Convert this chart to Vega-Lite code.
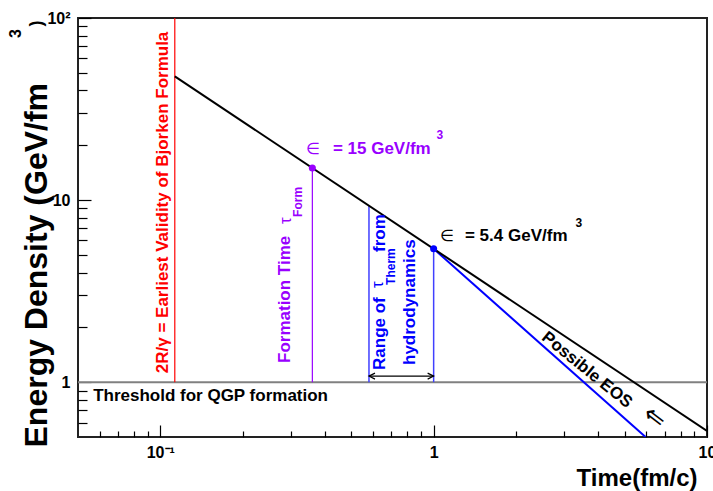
{
  "$schema": "https://vega.github.io/schema/vega-lite/v6.json",
  "width": 629,
  "height": 419,
  "autosize": {"type": "none"},
  "padding": {"left": 78, "top": 18, "right": 6, "bottom": 54},
  "background": "white",
  "config": {"font": "Liberation Sans", "view": {"stroke": "#222", "strokeWidth": 2}},
  "datasets": {
    "threshold": [{"e": 1}],
    "bjorken": [{"t": 0.113, "e": 47.79}, {"t": 10, "e": 0.54}],
    "eos": [{"t": 1, "e": 5.4}, {"t": 5.96, "e": 0.5}],
    "earliest": [{"t": 0.113, "e": 1, "e2": 100}],
    "formation": [{"t": 0.36, "e": 1, "e2": 15}],
    "therm_range": [{"t": 0.58, "e": 1, "e2": 9.31}, {"t": 1, "e": 1, "e2": 5.4}],
    "therm_span": [{"t": 0.58, "t2": 1, "e": 1.08}],
    "therm_span_lo": [{"t": 0.58, "e": 1.08}],
    "therm_span_hi": [{"t": 1, "e": 1.08}],
    "eps_form": [{"t": 0.36, "e": 15}],
    "eps_therm": [{"t": 1, "e": 5.4}],
    "note_threshold": [{"t": 0.0568, "e": 0.84, "label": "Threshold for QGP formation"}],
    "note_earliest": [{"t": 0.1023, "e": 1.12, "label": "2R/γ = Earliest Validity of Bjorken Formula"}],
    "note_formation": [{"t": 0.2857, "e": 1.275, "label": "Formation Time"}],
    "note_formation_tau": [{"t": 0.2884, "e": 7.39, "label": "τ"}],
    "note_formation_sub": [{"t": 0.3189, "e": 8.08, "label": "Form"}],
    "note_therm": [
      {"t": 0.6363, "e": 1.167, "label": "Range of"},
      {"t": 0.6363, "e": 5.19, "label": "from"},
      {"t": 0.819, "e": 1.243, "label": "hydrodynamics"}
    ],
    "note_therm_tau": [{"t": 0.6256, "e": 3.29, "label": "τ"}],
    "note_therm_sub": [{"t": 0.698, "e": 3.42, "label": "Therm"}],
    "eps_form_symbol": [{"t": 0.3619, "e": 19.08, "label": "∈"}],
    "eps_form_value": [{"t": 0.428, "e": 19.08, "label": "= 15 GeV/fm"}],
    "eps_form_power": [{"t": 1.054, "e": 22.78, "label": "3"}],
    "eps_therm_symbol": [{"t": 1.119, "e": 6.35, "label": "∈"}],
    "eps_therm_value": [{"t": 1.302, "e": 6.35, "label": "= 5.4 GeV/fm"}],
    "eps_therm_power": [{"t": 3.401, "e": 7.48, "label": "3"}],
    "note_eos": [{"t": 3.637, "e": 1.167, "label": "Possible EOS"}],
    "note_arrow": [{"t": 6.45, "e": 0.644, "label": "⇐"}]
  },
  "layer": [
    {
      "data": {"name": "threshold"},
      "mark": {"type": "rule", "color": "#808080", "strokeWidth": 2},
      "encoding": {
        "y": {
          "field": "e", "type": "quantitative",
          "scale": {"type": "log", "domain": [0.5, 100]},
          "axis": {
            "orient": "left", "offset": -13,
            "values": [1, 10, 100],
            "labelExpr": "datum.value == 100 ? '10²' : datum.value == 10 ? '10' : '1'",
            "labelFontSize": 16, "labelFontWeight": "bold", "labelColor": "black",
            "labelPadding": 8, "labelFlush": false, "labelOverlap": false,
            "tickSize": 13, "tickColor": "black", "tickWidth": 1.2,
            "domain": false, "grid": false,
            "title": "Energy Density (GeV/fm",
            "titleFontSize": 32, "titleFontWeight": "bold", "titleColor": "black",
            "titleAngle": 270, "titleAlign": "left", "titleBaseline": "alphabetic",
            "titleX": -45, "titleY": 429
          }
        }
      }
    },
    {
      "data": {"name": "earliest"},
      "mark": {"type": "rule", "color": "#ff0000", "strokeWidth": 1.2},
      "encoding": {
        "x": {"field": "t", "type": "quantitative", "scale": {"type": "log", "domain": [0.05, 10]}, "axis": null},
        "y": {"field": "e", "type": "quantitative", "scale": {"type": "log", "domain": [0.5, 100]}, "axis": null},
        "y2": {"field": "e2"}
      }
    },
    {
      "data": {"name": "formation"},
      "mark": {"type": "rule", "color": "#9900ff", "strokeWidth": 1.2},
      "encoding": {
        "x": {"field": "t", "type": "quantitative", "scale": {"type": "log", "domain": [0.05, 10]}, "axis": null},
        "y": {"field": "e", "type": "quantitative", "scale": {"type": "log", "domain": [0.5, 100]}, "axis": null},
        "y2": {"field": "e2"}
      }
    },
    {
      "data": {"name": "therm_range"},
      "mark": {"type": "rule", "color": "#4040ff", "strokeWidth": 1.5},
      "encoding": {
        "x": {"field": "t", "type": "quantitative", "scale": {"type": "log", "domain": [0.05, 10]}, "axis": null},
        "y": {"field": "e", "type": "quantitative", "scale": {"type": "log", "domain": [0.5, 100]}, "axis": null},
        "y2": {"field": "e2"}
      }
    },
    {
      "data": {"name": "therm_span"},
      "mark": {"type": "rule", "color": "black", "strokeWidth": 1.2},
      "encoding": {
        "x": {"field": "t", "type": "quantitative", "scale": {"type": "log", "domain": [0.05, 10]}, "axis": null},
        "x2": {"field": "t2"},
        "y": {"field": "e", "type": "quantitative", "scale": {"type": "log", "domain": [0.5, 100]}, "axis": null}
      }
    },
    {
      "data": {"name": "therm_span_lo"},
      "mark": {"type": "point", "shape": "M2,-1L0,0L2,1", "filled": false, "color": "black", "size": 36, "strokeWidth": 1.2, "opacity": 1},
      "encoding": {
        "x": {"field": "t", "type": "quantitative", "scale": {"type": "log", "domain": [0.05, 10]}, "axis": null},
        "y": {"field": "e", "type": "quantitative", "scale": {"type": "log", "domain": [0.5, 100]}, "axis": null}
      }
    },
    {
      "data": {"name": "therm_span_hi"},
      "mark": {"type": "point", "shape": "M-2,-1L0,0L-2,1", "filled": false, "color": "black", "size": 36, "strokeWidth": 1.2, "opacity": 1},
      "encoding": {
        "x": {"field": "t", "type": "quantitative", "scale": {"type": "log", "domain": [0.05, 10]}, "axis": null},
        "y": {"field": "e", "type": "quantitative", "scale": {"type": "log", "domain": [0.5, 100]}, "axis": null}
      }
    },
    {
      "data": {"name": "eos"},
      "mark": {"type": "line", "color": "#0000ff", "strokeWidth": 2, "clip": true},
      "encoding": {
        "x": {
          "field": "t", "type": "quantitative", "scale": {"type": "log", "domain": [0.05, 10]},
          "axis": {
            "orient": "bottom", "offset": -6,
            "values": [0.06, 0.07, 0.08, 0.09, 0.2, 0.3, 0.4, 0.5, 0.6, 0.7, 0.8, 0.9, 2, 3, 4, 5, 6, 7, 8, 9],
            "labels": false, "tickSize": 6, "tickColor": "black", "tickWidth": 1.2,
            "domain": false, "grid": false, "title": null
          }
        },
        "y": {
          "field": "e", "type": "quantitative", "scale": {"type": "log", "domain": [0.5, 100]},
          "axis": {
            "orient": "left", "offset": -9,
            "values": [0.6, 0.7, 0.8, 0.9, 2, 3, 4, 5, 6, 7, 8, 9, 20, 30, 40, 50, 60, 70, 80, 90],
            "labels": false, "tickSize": 9, "tickColor": "black", "tickWidth": 1.2,
            "domain": false, "grid": false, "title": null
          }
        }
      }
    },
    {
      "data": {"name": "bjorken"},
      "mark": {"type": "line", "color": "black", "strokeWidth": 2, "clip": true},
      "encoding": {
        "x": {
          "field": "t", "type": "quantitative", "scale": {"type": "log", "domain": [0.05, 10]},
          "axis": {
            "orient": "bottom", "offset": -12,
            "values": [0.1, 1, 10],
            "labelExpr": "datum.value == 0.1 ? '10⁻¹' : datum.value == 1 ? '1' : '10'",
            "labelFontSize": 16, "labelFontWeight": "bold", "labelColor": "black",
            "labelPadding": 7, "labelFlush": false, "labelOverlap": false,
            "tickSize": 12, "tickColor": "black", "tickWidth": 1.2,
            "domain": false, "grid": false,
            "title": "Time(fm/c)",
            "titleFontSize": 24, "titleFontWeight": "bold", "titleColor": "black",
            "titleAlign": "right", "titleBaseline": "alphabetic",
            "titleX": 619, "titleY": 60
          }
        },
        "y": {"field": "e", "type": "quantitative", "scale": {"type": "log", "domain": [0.5, 100]}, "axis": null}
      }
    },
    {
      "data": {"name": "note_threshold"},
      "mark": {"type": "text", "align": "left", "baseline": "middle", "fontSize": 17, "fontWeight": "bold", "color": "black"},
      "encoding": {
        "x": {"field": "t", "type": "quantitative", "scale": {"type": "log", "domain": [0.05, 10]}, "axis": null},
        "y": {"field": "e", "type": "quantitative", "scale": {"type": "log", "domain": [0.5, 100]}, "axis": null},
        "text": {"field": "label"}
      }
    },
    {
      "data": {"name": "note_earliest"},
      "mark": {"type": "text", "angle": 270, "align": "left", "baseline": "middle", "fontSize": 17, "fontWeight": "bold", "color": "#ff0000"},
      "encoding": {
        "x": {"field": "t", "type": "quantitative", "scale": {"type": "log", "domain": [0.05, 10]}, "axis": null},
        "y": {"field": "e", "type": "quantitative", "scale": {"type": "log", "domain": [0.5, 100]}, "axis": null},
        "text": {"field": "label"}
      }
    },
    {
      "data": {"name": "note_formation"},
      "mark": {"type": "text", "angle": 270, "align": "left", "baseline": "middle", "fontSize": 17, "fontWeight": "bold", "color": "#9900ff"},
      "encoding": {
        "x": {"field": "t", "type": "quantitative", "scale": {"type": "log", "domain": [0.05, 10]}, "axis": null},
        "y": {"field": "e", "type": "quantitative", "scale": {"type": "log", "domain": [0.5, 100]}, "axis": null},
        "text": {"field": "label"}
      }
    },
    {
      "data": {"name": "note_formation_tau"},
      "mark": {"type": "text", "angle": 270, "align": "left", "baseline": "middle", "fontSize": 17, "color": "#9900ff"},
      "encoding": {
        "x": {"field": "t", "type": "quantitative", "scale": {"type": "log", "domain": [0.05, 10]}, "axis": null},
        "y": {"field": "e", "type": "quantitative", "scale": {"type": "log", "domain": [0.5, 100]}, "axis": null},
        "text": {"field": "label"}
      }
    },
    {
      "data": {"name": "note_formation_sub"},
      "mark": {"type": "text", "angle": 270, "align": "left", "baseline": "middle", "fontSize": 12, "fontWeight": "bold", "color": "#9900ff"},
      "encoding": {
        "x": {"field": "t", "type": "quantitative", "scale": {"type": "log", "domain": [0.05, 10]}, "axis": null},
        "y": {"field": "e", "type": "quantitative", "scale": {"type": "log", "domain": [0.5, 100]}, "axis": null},
        "text": {"field": "label"}
      }
    },
    {
      "data": {"name": "note_therm"},
      "mark": {"type": "text", "angle": 270, "align": "left", "baseline": "middle", "fontSize": 17, "fontWeight": "bold", "color": "#0000ff"},
      "encoding": {
        "x": {"field": "t", "type": "quantitative", "scale": {"type": "log", "domain": [0.05, 10]}, "axis": null},
        "y": {"field": "e", "type": "quantitative", "scale": {"type": "log", "domain": [0.5, 100]}, "axis": null},
        "text": {"field": "label"}
      }
    },
    {
      "data": {"name": "note_therm_tau"},
      "mark": {"type": "text", "angle": 270, "align": "left", "baseline": "middle", "fontSize": 17, "color": "#0000ff"},
      "encoding": {
        "x": {"field": "t", "type": "quantitative", "scale": {"type": "log", "domain": [0.05, 10]}, "axis": null},
        "y": {"field": "e", "type": "quantitative", "scale": {"type": "log", "domain": [0.5, 100]}, "axis": null},
        "text": {"field": "label"}
      }
    },
    {
      "data": {"name": "note_therm_sub"},
      "mark": {"type": "text", "angle": 270, "align": "left", "baseline": "middle", "fontSize": 12, "fontWeight": "bold", "color": "#0000ff"},
      "encoding": {
        "x": {"field": "t", "type": "quantitative", "scale": {"type": "log", "domain": [0.05, 10]}, "axis": null},
        "y": {"field": "e", "type": "quantitative", "scale": {"type": "log", "domain": [0.5, 100]}, "axis": null},
        "text": {"field": "label"}
      }
    },
    {
      "data": {"name": "eps_form_symbol"},
      "mark": {"type": "text", "align": "center", "baseline": "middle", "fontSize": 16, "color": "#9900ff"},
      "encoding": {
        "x": {"field": "t", "type": "quantitative", "scale": {"type": "log", "domain": [0.05, 10]}, "axis": null},
        "y": {"field": "e", "type": "quantitative", "scale": {"type": "log", "domain": [0.5, 100]}, "axis": null},
        "text": {"field": "label"}
      }
    },
    {
      "data": {"name": "eps_form_value"},
      "mark": {"type": "text", "align": "left", "baseline": "middle", "fontSize": 17, "fontWeight": "bold", "color": "#9900ff"},
      "encoding": {
        "x": {"field": "t", "type": "quantitative", "scale": {"type": "log", "domain": [0.05, 10]}, "axis": null},
        "y": {"field": "e", "type": "quantitative", "scale": {"type": "log", "domain": [0.5, 100]}, "axis": null},
        "text": {"field": "label"}
      }
    },
    {
      "data": {"name": "eps_form_power"},
      "mark": {"type": "text", "align": "center", "baseline": "middle", "fontSize": 12, "fontWeight": "bold", "color": "#9900ff"},
      "encoding": {
        "x": {"field": "t", "type": "quantitative", "scale": {"type": "log", "domain": [0.05, 10]}, "axis": null},
        "y": {"field": "e", "type": "quantitative", "scale": {"type": "log", "domain": [0.5, 100]}, "axis": null},
        "text": {"field": "label"}
      }
    },
    {
      "data": {"name": "eps_therm_symbol"},
      "mark": {"type": "text", "align": "center", "baseline": "middle", "fontSize": 16, "color": "black"},
      "encoding": {
        "x": {"field": "t", "type": "quantitative", "scale": {"type": "log", "domain": [0.05, 10]}, "axis": null},
        "y": {"field": "e", "type": "quantitative", "scale": {"type": "log", "domain": [0.5, 100]}, "axis": null},
        "text": {"field": "label"}
      }
    },
    {
      "data": {"name": "eps_therm_value"},
      "mark": {"type": "text", "align": "left", "baseline": "middle", "fontSize": 17, "fontWeight": "bold", "color": "black"},
      "encoding": {
        "x": {"field": "t", "type": "quantitative", "scale": {"type": "log", "domain": [0.05, 10]}, "axis": null},
        "y": {"field": "e", "type": "quantitative", "scale": {"type": "log", "domain": [0.5, 100]}, "axis": null},
        "text": {"field": "label"}
      }
    },
    {
      "data": {"name": "eps_therm_power"},
      "mark": {"type": "text", "align": "center", "baseline": "middle", "fontSize": 12, "fontWeight": "bold", "color": "black"},
      "encoding": {
        "x": {"field": "t", "type": "quantitative", "scale": {"type": "log", "domain": [0.05, 10]}, "axis": null},
        "y": {"field": "e", "type": "quantitative", "scale": {"type": "log", "domain": [0.5, 100]}, "axis": null},
        "text": {"field": "label"}
      }
    },
    {
      "data": {"name": "note_eos"},
      "mark": {"type": "text", "angle": 39, "align": "center", "baseline": "middle", "fontSize": 17, "fontWeight": "bold", "color": "black"},
      "encoding": {
        "x": {"field": "t", "type": "quantitative", "scale": {"type": "log", "domain": [0.05, 10]}, "axis": null},
        "y": {"field": "e", "type": "quantitative", "scale": {"type": "log", "domain": [0.5, 100]}, "axis": null},
        "text": {"field": "label"}
      }
    },
    {
      "data": {"name": "note_arrow"},
      "mark": {"type": "text", "angle": 38, "align": "center", "baseline": "middle", "fontSize": 26, "color": "black"},
      "encoding": {
        "x": {"field": "t", "type": "quantitative", "scale": {"type": "log", "domain": [0.05, 10]}, "axis": null},
        "y": {"field": "e", "type": "quantitative", "scale": {"type": "log", "domain": [0.5, 100]}, "axis": null},
        "text": {"field": "label"}
      }
    },
    {
      "data": {"name": "eps_form"},
      "mark": {"type": "circle", "color": "#9900ff", "size": 50, "opacity": 1},
      "encoding": {
        "x": {"field": "t", "type": "quantitative", "scale": {"type": "log", "domain": [0.05, 10]}, "axis": null},
        "y": {
          "field": "e", "type": "quantitative",
          "scale": {"type": "log", "domain": [0.5, 100]},
          "axis": {
            "orient": "left", "labels": false, "ticks": false, "domain": false, "grid": false,
            "title": "3", "titleFontSize": 16, "titleFontWeight": "bold", "titleColor": "black",
            "titleAngle": 270, "titleAlign": "center", "titleBaseline": "alphabetic",
            "titleX": -58, "titleY": 15
          }
        }
      }
    },
    {
      "data": {"name": "eps_therm"},
      "mark": {"type": "circle", "color": "#0000ff", "size": 50, "opacity": 1},
      "encoding": {
        "x": {"field": "t", "type": "quantitative", "scale": {"type": "log", "domain": [0.05, 10]}, "axis": null},
        "y": {
          "field": "e", "type": "quantitative",
          "scale": {"type": "log", "domain": [0.5, 100]},
          "axis": {
            "orient": "left", "labels": false, "ticks": false, "domain": false, "grid": false,
            "title": ")", "titleFontSize": 18, "titleFontWeight": "bold", "titleColor": "black",
            "titleAngle": 270, "titleAlign": "center", "titleBaseline": "alphabetic",
            "titleX": -37, "titleY": 5
          }
        }
      }
    }
  ],
  "resolve": {"axis": {"x": "independent", "y": "independent"}}
}
